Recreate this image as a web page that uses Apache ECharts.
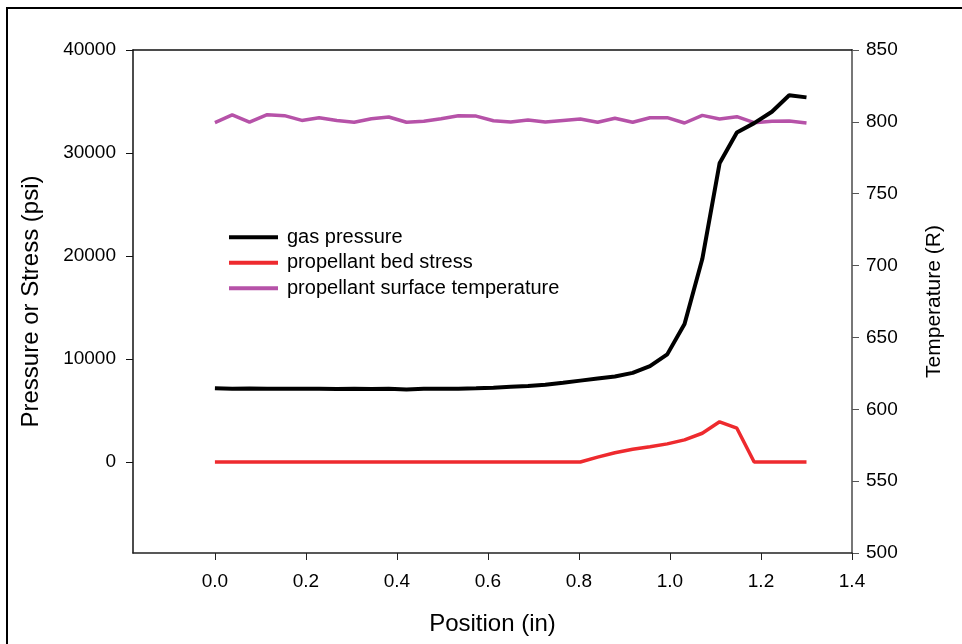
<!DOCTYPE html>
<html>
<head>
<meta charset="utf-8">
<script src="https://cdn.jsdelivr.net/npm/echarts@6/dist/echarts.min.js"></script>
<style>
  html, body { margin: 0; padding: 0; background: #fff; }
  #chart { width: 962px; height: 644px; }
</style>
</head>
<body>
<div id="chart"></div>
<script>
// Axial position along the propellant bed (in)
const positions = [0, 0.038, 0.076, 0.115, 0.153, 0.191, 0.229, 0.268, 0.306, 0.344,
  0.382, 0.421, 0.459, 0.497, 0.535, 0.574, 0.612, 0.65, 0.688, 0.726,
  0.765, 0.803, 0.841, 0.879, 0.918, 0.956, 0.994, 1.032, 1.071, 1.109,
  1.147, 1.185, 1.224, 1.262, 1.3];

// Gas pressure (psi)
const gasPressure = [7150, 7100, 7130, 7100, 7110, 7100, 7100, 7090, 7100, 7080,
  7100, 7050, 7100, 7100, 7120, 7150, 7200, 7300, 7380, 7500,
  7700, 7900, 8100, 8300, 8650, 9300, 10450, 13400, 19700, 29000,
  32000, 32900, 34000, 35600, 35400];

// Propellant bed stress (psi)
const bedStress = [0, 0, 0, 0, 0, 0, 0, 0, 0, 0,
  0, 0, 0, 0, 0, 0, 0, 0, 0, 0,
  0, 0, 470, 900, 1230, 1490, 1760, 2150, 2790, 3900,
  3280, 0, 0, 0, 0];

// Propellant surface temperature (R)
const surfaceTemp = [799.5, 804.8, 799.8, 805, 804.3, 801, 802.9, 801, 799.7, 802.2,
  803.4, 799.7, 800.4, 802.2, 804.3, 804, 800.8, 799.9, 801.3, 799.9,
  801, 802, 799.7, 802.5, 799.7, 802.9, 802.9, 799.2, 804.5, 802,
  803.6, 799.4, 800.4, 800.6, 799.2];

// Tick labels
const xTicks = [0, 0.2, 0.4, 0.6, 0.8, 1.0, 1.2, 1.4];
const pressureTicks = [0, 10000, 20000, 30000, 40000];

const zip = (xs, ys) => xs.map((x, i) => [x, ys[i]]);

const FONT = 'Liberation Sans, Arial, sans-serif';
const TICK_SIZE = 19;
const chart = echarts.init(document.getElementById('chart'), null, { renderer: 'canvas' });

chart.setOption({
  backgroundColor: '#ffffff',
  animation: false,
  textStyle: { fontFamily: FONT },
  graphic: [{
    type: 'rect',
    shape: { x: 7, y: 8, width: 1000, height: 1000 },
    style: { fill: 'none', stroke: '#000', lineWidth: 2 },
    silent: true
  }],
  grid: { left: 133, right: 110, top: 50, bottom: 91 },
  legend: {
    orient: 'vertical',
    left: 229,
    top: 226,
    padding: 0,
    itemWidth: 49,
    itemHeight: 4,
    itemGap: 3,
    icon: 'rect',
    textStyle: { fontFamily: FONT, fontSize: 20, color: '#000', lineHeight: 22.5, padding: [0, 0, 0, 4] },
    data: ['gas pressure', 'propellant bed stress', 'propellant surface temperature']
  },
  xAxis: [{
    type: 'value',
    position: 'bottom',
    min: -0.18,
    max: 1.4,
    name: 'Position (in)',
    nameLocation: 'middle',
    nameGap: 59,
    nameTextStyle: { fontFamily: FONT, fontSize: 24, color: '#000' },
    axisLine: { show: true, onZero: false, lineStyle: { color: '#222', width: 1.5 } },
    axisTick: { show: true, inside: false, length: 7, customValues: xTicks, lineStyle: { color: '#222' } },
    axisLabel: {
      customValues: xTicks,
      formatter: v => v.toFixed(1),
      fontSize: TICK_SIZE, color: '#000', margin: 19, fontFamily: FONT
    },
    splitLine: { show: false }
  }, {
    type: 'value',
    position: 'top',
    min: -0.18,
    max: 1.4,
    axisLine: { show: true, onZero: false, lineStyle: { color: '#111', width: 1.5 } },
    axisTick: { show: false },
    axisLabel: { show: false },
    splitLine: { show: false }
  }],
  yAxis: [{
    type: 'value',
    position: 'left',
    min: -8835,
    max: 40000,
    name: 'Pressure or Stress (psi)',
    nameLocation: 'middle',
    nameRotate: 90,
    nameGap: 90,
    nameTextStyle: { fontFamily: FONT, fontSize: 24, color: '#000' },
    axisLine: { show: true, onZero: false, lineStyle: { color: '#111', width: 1.5 } },
    axisTick: { show: true, inside: false, length: 7, customValues: pressureTicks, lineStyle: { color: '#111' } },
    axisLabel: {
      customValues: pressureTicks,
      formatter: v => String(v),
      fontSize: TICK_SIZE, color: '#000', margin: 17, fontFamily: FONT
    },
    splitLine: { show: false }
  }, {
    type: 'value',
    position: 'right',
    min: 500,
    max: 850,
    interval: 50,
    name: 'Temperature (R)',
    nameLocation: 'middle',
    nameRotate: 90,
    nameGap: 72,
    nameTextStyle: { fontFamily: FONT, fontSize: 21, color: '#000' },
    axisLine: { show: true, onZero: false, lineStyle: { color: '#777', width: 2 } },
    axisTick: { show: true, inside: false, length: 7, lineStyle: { color: '#555' } },
    axisLabel: { fontSize: TICK_SIZE, color: '#000', margin: 14, fontFamily: FONT },
    splitLine: { show: false }
  }],
  series: [{
    name: 'gas pressure',
    type: 'line',
    xAxisIndex: 0,
    yAxisIndex: 0,
    data: zip(positions, gasPressure),
    showSymbol: false,
    color: '#000000',
    lineStyle: { color: '#000000', width: 4 },
    z: 3
  }, {
    name: 'propellant bed stress',
    type: 'line',
    xAxisIndex: 0,
    yAxisIndex: 0,
    data: zip(positions, bedStress),
    showSymbol: false,
    color: '#ee2a2e',
    lineStyle: { color: '#ee2a2e', width: 3.5 },
    z: 2
  }, {
    name: 'propellant surface temperature',
    type: 'line',
    xAxisIndex: 0,
    yAxisIndex: 1,
    data: zip(positions, surfaceTemp),
    showSymbol: false,
    color: '#b652a8',
    lineStyle: { color: '#b652a8', width: 3.5 },
    z: 2
  }]
});
</script>
</body>
</html>
